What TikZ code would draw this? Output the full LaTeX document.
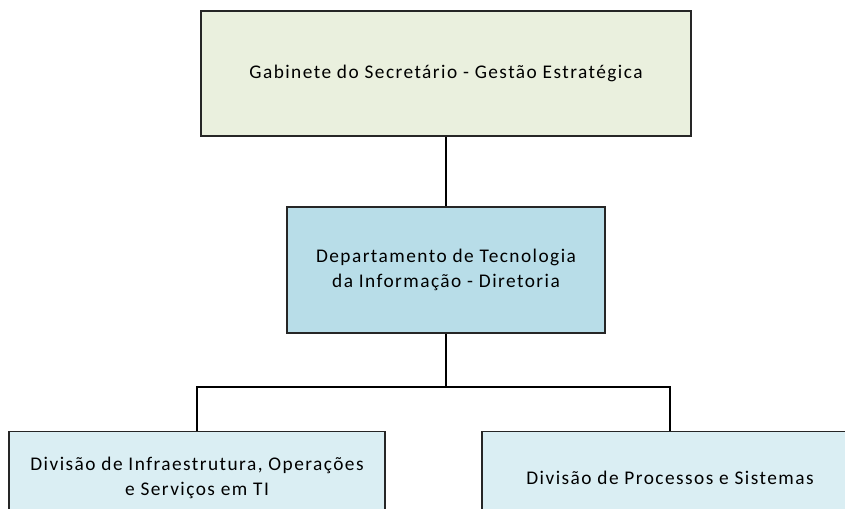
\documentclass[tikz,border=0pt]{standalone}
\usepackage{fontspec}
\setmainfont[LetterSpace=7.5]{Carlito}
\definecolor{verdeclaro}{HTML}{EAF0DE}
\definecolor{azulmedio}{HTML}{B8DDE8}
\definecolor{azulclaro}{HTML}{DAEEF3}
\definecolor{borda}{HTML}{262626}
\tikzset{
  caixa/.style={draw=borda,line width=1.1pt,inner sep=0pt,align=center,font=\fontsize{14.5}{19}\selectfont},
  liga/.style={draw=black,line width=1.1pt}
}
\begin{document}
\begin{tikzpicture}[x=0.75pt,y=-0.75pt]

\clip (0,0) rectangle (845,509);

\node[caixa,fill=verdeclaro,minimum width=490*0.75pt,minimum height=125*0.75pt] (gabinete) at (446,73.5)
  {Gabinete do Secretário - Gestão Estratégica};

\node[caixa,fill=azulmedio,minimum width=318*0.75pt,minimum height=126*0.75pt] (dti) at (446,270)
  {Departamento de Tecnologia\\da Informação - Diretoria};

\node[caixa,fill=azulclaro,minimum width=376*0.75pt,minimum height=92*0.75pt,anchor=north] (infra) at (197,431)
  {Divisão de Infraestrutura, Operações\\e Serviços em TI};
\node[caixa,fill=azulclaro,minimum width=376*0.75pt,minimum height=92*0.75pt,anchor=north] (processos) at (670,431)
  {Divisão de Processos e Sistemas};

\coordinate (ramo) at (446,387);

\draw[liga] (gabinete) -- (dti);
\draw[liga] (dti) -- (ramo);
\draw[liga] (ramo) -| (infra);
\draw[liga] (ramo) -| (processos);

\end{tikzpicture}
\end{document}
